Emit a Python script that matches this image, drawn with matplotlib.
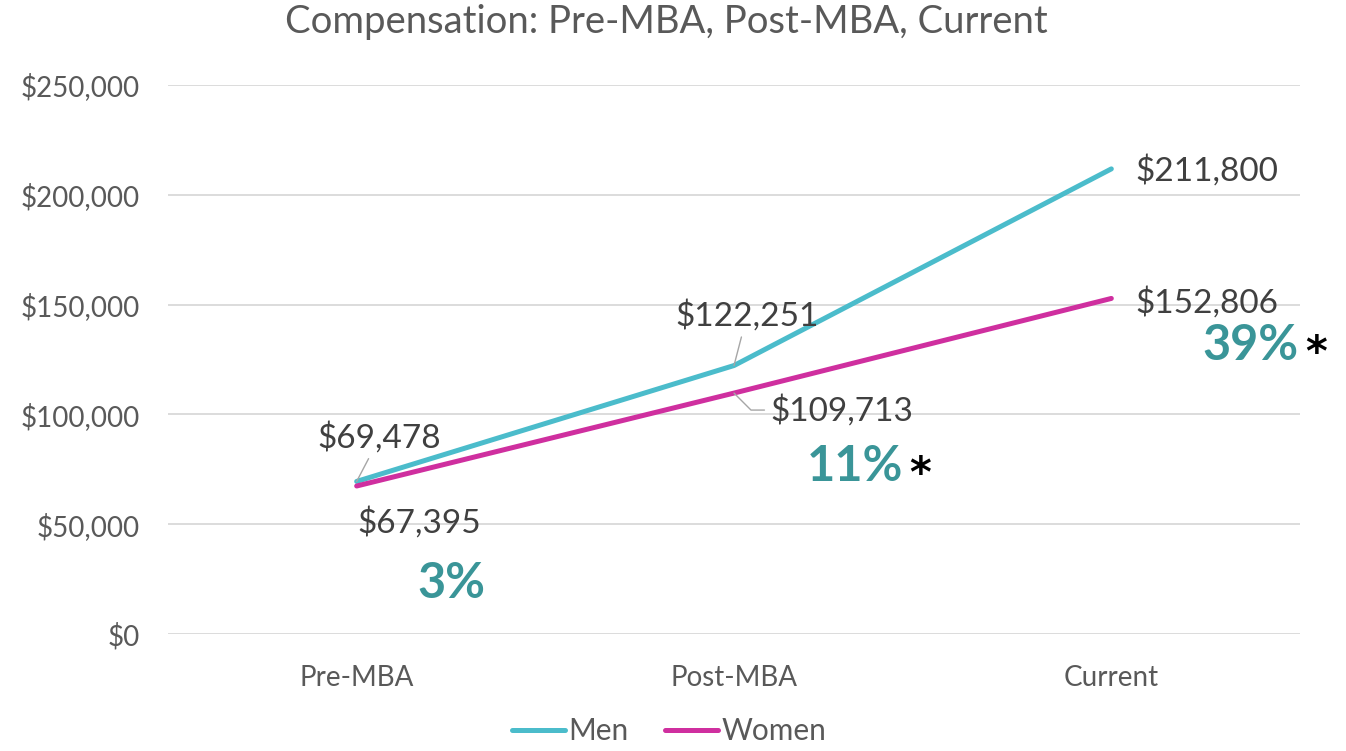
import matplotlib
matplotlib.use("Agg")
import matplotlib.pyplot as plt
from matplotlib.ticker import FuncFormatter

plt.rcParams['font.family'] = ['Lato', 'DejaVu Sans']

stages = ['Pre-MBA', 'Post-MBA', 'Current']
men = [69478, 122251, 211800]
women = [67395, 109713, 152806]
gap_labels = ['3%', '11%', '39%']
gap_stars = ['', '*', '*']

men_color = '#4bbccb'
women_color = '#cf2f9f'
teal = '#3a9598'
label_grey = '#404040'
axis_grey = '#595959'

fig = plt.figure(figsize=(13.46, 7.51), dpi=100)
ax = fig.add_axes([168/1346, 1-634/751, (1300-168)/1346, (634-85)/751])

x = list(range(len(stages)))
ax.plot(x, men, color=men_color, lw=3.6, label='Men', solid_capstyle='round')
ax.plot(x, women, color=women_color, lw=3.6, label='Women', solid_capstyle='round')

ax.set_xlim(-0.5, 2.5)
ax.set_ylim(0, 250000)
ax.set_yticks(range(0, 250001, 50000))
ax.yaxis.set_major_formatter(FuncFormatter(lambda v, p: '${:,.0f}'.format(v)))
ax.set_xticks(x)
ax.set_xticklabels(stages)
ax.tick_params(axis='y', length=0, pad=20, labelsize=20, labelcolor=axis_grey)
ax.tick_params(axis='x', length=0, pad=22, labelsize=20, labelcolor=axis_grey)
ax.grid(axis='y', color='#d9d9d9', lw=1.3)
ax.set_axisbelow(True)
for s in ax.spines.values():
    s.set_visible(False)

# value labels (offsets in pixels from each point)
lead = dict(arrowstyle='-', color='#a6a6a6', lw=1, shrinkA=2, shrinkB=0)
fs = 24
ax.annotate('${:,}'.format(men[0]), xy=(0, men[0]), xytext=(23, 44), textcoords='offset pixels',
            ha='center', va='center', fontsize=fs, color=label_grey, arrowprops=lead)
ax.annotate('${:,}'.format(women[0]), xy=(0, women[0]), xytext=(63, -37), textcoords='offset pixels',
            ha='center', va='center', fontsize=fs, color=label_grey)
ax.annotate('${:,}'.format(men[1]), xy=(1, men[1]), xytext=(13, 50), textcoords='offset pixels',
            ha='center', va='center', fontsize=fs, color=label_grey, arrowprops=lead)
ax.annotate('${:,}'.format(women[1]), xy=(1, women[1]), xytext=(36, -17), textcoords='offset pixels',
            ha='left', va='center', fontsize=fs, color=label_grey,
            arrowprops=dict(lead, relpos=(0, 0.5), connectionstyle='angle,angleA=0,angleB=-45,rad=0'))
ax.annotate('${:,}'.format(men[2]), xy=(2, men[2]), xytext=(24, -2), textcoords='offset pixels',
            ha='left', va='center', fontsize=fs, color=label_grey)
ax.annotate('${:,}'.format(women[2]), xy=(2, women[2]), xytext=(24, -4), textcoords='offset pixels',
            ha='left', va='center', fontsize=fs, color=label_grey)

# gap percentages
gap_off = [(95, -97), (121, -73), (139, -47)]
star_off = [None, (186, -82), (205, -56)]
for i in x:
    ax.annotate(gap_labels[i], xy=(i, women[i]), xytext=gap_off[i], textcoords='offset pixels',
                ha='center', va='center', fontsize=35, fontweight='bold', color=teal)
    if gap_stars[i]:
        ax.annotate(gap_stars[i], xy=(i, women[i]), xytext=star_off[i], textcoords='offset pixels',
                    ha='center', va='center', fontsize=30, fontweight='bold', color='black',
                    family='DejaVu Sans')

fig.text(0.495, 1-22/751, 'Compensation: Pre-MBA, Post-MBA, Current', ha='center', va='center',
         fontsize=27.5, color=axis_grey)
fig.legend(loc='lower center', bbox_to_anchor=(0.497, -0.028), ncol=2, frameon=False,
           fontsize=21.5, handlelength=1.8, handletextpad=0.1, columnspacing=1.2, labelcolor=axis_grey)

fig.savefig('out.png', dpi=100)
